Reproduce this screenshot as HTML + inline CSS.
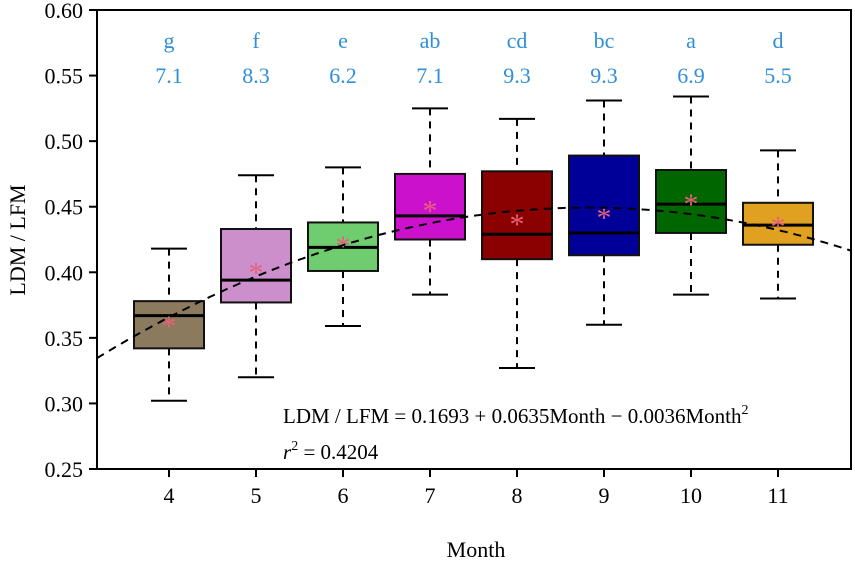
<!DOCTYPE html>
<html><head><meta charset="utf-8"><style>
body{margin:0;background:#fff}
svg{display:block;font-family:"Liberation Serif",serif}
</style></head><body>
<svg id="c" width="855" height="563" viewBox="0 0 855 563"></svg>
<script>
const months=[4,5,6,7,8,9,10,11];
const whiskerHigh=[0.418,0.474,0.480,0.525,0.517,0.531,0.534,0.493];
const whiskerLow=[0.302,0.320,0.359,0.383,0.327,0.360,0.383,0.380];
const q3=[0.378,0.433,0.438,0.475,0.477,0.489,0.478,0.453];
const q1=[0.342,0.377,0.401,0.425,0.410,0.413,0.430,0.421];
const medians=[0.367,0.394,0.419,0.443,0.429,0.430,0.452,0.436];
const means=[0.362,0.403,0.423,0.450,0.440,0.445,0.455,0.438];
const letters=["g","f","e","ab","cd","bc","a","d"];
const cvs=["7.1","8.3","6.2","7.1","9.3","9.3","6.9","5.5"];
const colors=["#8c7a5e","#cc8fcc","#6fcc6f","#cc11cc","#8b0000","#000099","#006600","#e0a020"];
const yTicks=[0.25,0.30,0.35,0.40,0.45,0.50,0.55,0.60];
const coef=[0.1693,0.0635,-0.0036];

const NS="http://www.w3.org/2000/svg";
const svg=document.getElementById('c');
const L=97,R=851,T=10,B=469;
const x=m=>169+(m-4)*87;
const y=v=>B-(v-0.25)/0.35*(B-T);
function mk(t,a,p){const e=document.createElementNS(NS,t);for(const k in a)e.setAttribute(k,a[k]);(p||svg).appendChild(e);return e;}

months.forEach((m,i)=>{
  const g=mk('g',{});
  
  
  const cx=x(m);
  mk('line',{x1:cx,x2:cx,y1:y(whiskerHigh[i]),y2:y(q3[i]),stroke:'#000','stroke-width':2,'stroke-dasharray':'7,6'},g);
  mk('line',{x1:cx,x2:cx,y1:y(q1[i]),y2:y(whiskerLow[i]),stroke:'#000','stroke-width':2,'stroke-dasharray':'7,6'},g);
  mk('line',{x1:cx-18,x2:cx+18,y1:y(whiskerHigh[i]),y2:y(whiskerHigh[i]),stroke:'#000','stroke-width':2},g);
  mk('line',{x1:cx-18,x2:cx+18,y1:y(whiskerLow[i]),y2:y(whiskerLow[i]),stroke:'#000','stroke-width':2},g);
  mk('rect',{x:cx-35,y:y(q3[i]),width:70,height:y(q1[i])-y(q3[i]),fill:colors[i],stroke:'#111','stroke-width':2},g);
  mk('line',{x1:cx-35,x2:cx+35,y1:y(medians[i]),y2:y(medians[i]),stroke:'#000','stroke-width':3},g);
  const t=mk('text',{x:cx,y:y(means[i])+14,'text-anchor':'middle','font-size':30,fill:'#e8607a'},g);t.textContent='*';
  const l=mk('text',{x:cx,y:48,'text-anchor':'middle','font-size':22,fill:'#2f8fd8'});l.textContent=letters[i];
  
  
  const c=mk('text',{x:cx,y:83,'text-anchor':'middle','font-size':22,fill:'#2f8fd8'});c.textContent=cvs[i];
  
  
});
let d='';
for(let px=L;px<=R;px+=2){const m=4+(px-169)/87;const v=coef[0]+coef[1]*m+coef[2]*m*m;d+=(d?'L':'M')+px+','+y(v).toFixed(1);}
const fc=mk('path',{d:d,fill:'none',stroke:'#000','stroke-width':2,'stroke-dasharray':'8,6'});


const fr=mk('rect',{x:L,y:T,width:R-L,height:B-T,fill:'none',stroke:'#000','stroke-width':2});


yTicks.forEach(v=>{
  mk('line',{x1:L-8,x2:L,y1:y(v),y2:y(v),stroke:'#000','stroke-width':2});
  const t=mk('text',{x:L-14,y:y(v)+8,'text-anchor':'end','font-size':22});t.textContent=v.toFixed(2);
  
  
});
months.forEach(m=>{
  mk('line',{x1:x(m),x2:x(m),y1:B,y2:B+8,stroke:'#000','stroke-width':2});
  const t=mk('text',{x:x(m),y:B+34,'text-anchor':'middle','font-size':22});t.textContent=m;
  
  
});
</script>
<svg style="position:absolute;left:0;top:0" width="855" height="563">
<text x="283" y="423" font-family="Liberation Serif,serif" font-size="21">LDM / LFM = 0.1693 + 0.0635Month − 0.0036Month<tspan dy="-9" font-size="14">2</tspan></text>
<text x="283" y="459" font-family="Liberation Serif,serif" font-size="21"><tspan font-style="italic">r</tspan><tspan dy="-9" font-size="14">2</tspan><tspan dy="9"> = 0.4204</tspan></text>
<text x="476" y="557" text-anchor="middle" font-family="Liberation Serif,serif" font-size="22">Month</text>
<text transform="translate(25,240) rotate(-90)" text-anchor="middle" font-family="Liberation Serif,serif" font-size="22">LDM / LFM</text>
</svg>
</body></html>
